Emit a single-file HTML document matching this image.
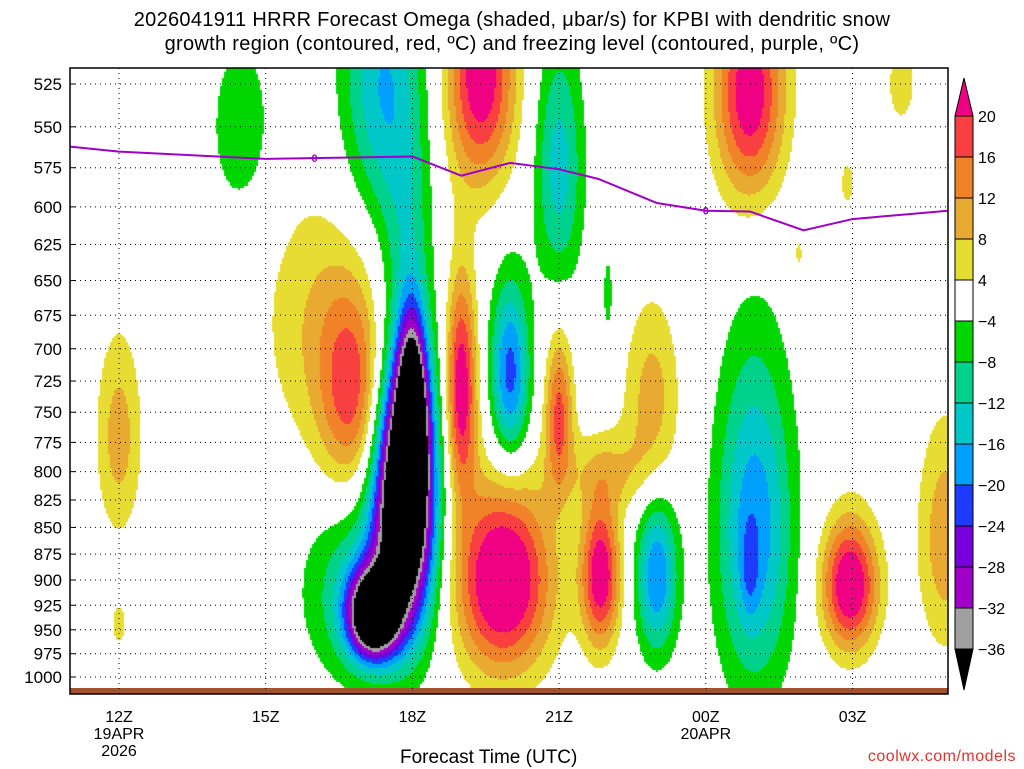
<!DOCTYPE html>
<html><head><meta charset="utf-8"><style>
body{margin:0;background:#fff;width:1024px;height:768px;overflow:hidden;font-family:"Liberation Sans","DejaVu Sans",sans-serif}
#wrap{position:relative;width:1024px;height:768px}
.t{position:absolute;white-space:nowrap}
</style></head><body><div id="wrap">
<div class="t" style="left:0;width:1024px;top:8px;text-align:center;font-size:20px;line-height:24px;letter-spacing:0.3px">2026041911 HRRR Forecast Omega (shaded, μbar/s) for KPBI with dendritic snow<br>growth region (contoured, red, ºC) and freezing level (contoured, purple, ºC)</div>
<canvas id="cv" width="1024" height="768" style="position:absolute;left:0;top:0"></canvas>
<svg id="sv" width="1024" height="768" style="position:absolute;left:0;top:0"></svg>
<div class="t" style="left:400px;top:747px;font-size:19px">Forecast Time (UTC)</div>
<div class="t" style="right:8px;top:748px;font-size:16px;color:#e83030;letter-spacing:0.5px">coolwx.com/models</div>
</div>
<script>
// blobs: hour offset from 12Z, pressure center, sigma hour, sigma pressure, amplitude
const blobH=[0,0,4.8,4.0,7.4,7.0,7.85,9.0,9.85,10.9,12.9,14.95,14.9,16.9,16.0,13.9,10.0,
 2.5,5.85,5.2,5.1,5.4,5.9,9.0,8.0,10.0,11.0,13.0,12.9,6.0];
const blobP=[770,945,735,680,520,730,900,750,895,740,530,905,585,860,525,632,800,
 550,815,935,910,525,610,575,720,660,895,850,890,740];
const blobSH=[0.33,0.13,0.5,0.8,0.5,0.22,0.7,0.2,0.28,0.4,0.5,0.4,0.12,0.4,0.25,0.1,0.7,
 0.45,0.42,0.35,0.85,0.6,0.35,0.35,0.28,0.07,0.3,0.55,0.12,0.2];
const blobSP=[60,18,60,70,45,60,65,45,50,55,45,45,12,75,20,12,25,
 38,80,30,65,60,50,55,50,20,55,110,30,50];
const blobA=[10,6,17,7,24,24,28,17,24,10,24,26,6,11,6,5,7,
 -7.5,-58,-45,-14,-16,-6,-14,-22,-7,-20,-19,-6,-30];
const levels=[20,16,12,8,4,-4,-8,-12,-16,-20,-24,-28,-32,-36];
const colors=['#f00082','#f94040','#f08228','#e8aa30','#e6dc32','#ffffff','#00d700','#00d28c','#00c8c8','#00a0ff','#1e3cff','#7800dc','#a000c8','#a0a0a0','#000000'];
const pTicks=[525,550,575,600,625,650,675,700,725,750,775,800,825,850,875,900,925,950,975,1000];
const xTicks=[0,3,6,9,12,15];
const xLab1=['12Z','15Z','18Z','21Z','00Z','03Z'];
const xLab2=['19APR','','','','20APR',''];
const xLab3=['2026','','','','',''];
const frzH=[-1,0,3,6,7,8,9,9.8,11,12,12.9,14,15,17];
const frzP=[562,565,569.5,568,580,572,576,582,597.5,602.5,603,615.5,608,602.5];
const cbLab=['20','16','12','8','4','−4','−8','−12','−16','−20','−24','−28','−32','−36'];

const L=70,R=948,T=68,B=694;
const LN=Math.log(1000/525);
const X=h=>119+h*48.9;
const Y=p=>84+Math.log(p/525)/LN*593;
const H=x=>(x-119)/48.9;
const P=y=>525*Math.exp((y-84)/593*LN);
function field(h,p){let v=0;for(let i=0;i<blobH.length;i++){const dh=(h-blobH[i])/blobSH[i],dp=(p-blobP[i])/blobSP[i];v+=blobA[i]*Math.exp(-0.5*(dh*dh+dp*dp));}return v;}
function col(v){for(let i=0;i<levels.length;i++){if(v>=levels[i])return colors[i];}return colors[colors.length-1];}
const ctx=document.getElementById('cv').getContext('2d');
ctx.fillStyle='#fff';ctx.fillRect(L,T,R-L,B-T);
for(let x=L;x<R;x+=2)for(let y=T;y<B;y+=2){const c=col(field(H(x+1),P(y+1)));if(c!=='#ffffff'){ctx.fillStyle=c;ctx.fillRect(x,y,2,2);}}
const NS='http://www.w3.org/2000/svg',sv=document.getElementById('sv');
function mk(t,a,par){const e=document.createElementNS(NS,t);for(const k in a)e.setAttribute(k,a[k]);(par||sv).appendChild(e);return e;}
let g=mk('rect',{x:L,y:688,width:R-L,height:6,fill:'#a0522d'});


pTicks.forEach(p=>{const y=Y(p);
 let l=mk('line',{x1:L,x2:R,y1:y,y2:y,stroke:'#000','stroke-width':1,'stroke-dasharray':'1,4'});
 
 
 mk('line',{x1:L,x2:L+6,y1:y,y2:y,stroke:'#000'});
 let t=mk('text',{x:62,y:y+6,'text-anchor':'end','font-size':17,'font-family':'Liberation Sans,sans-serif'});t.textContent=p;
 
 });
xTicks.forEach((h,i)=>{const x=X(h);
 let l=mk('line',{x1:x,x2:x,y1:T,y2:B,stroke:'#000','stroke-dasharray':'1,4'});
 
 
 [xLab1[i],xLab2[i],xLab3[i]].forEach((s,j)=>{if(!s)return;let t=mk('text',{x:x,y:722+j*17,'text-anchor':'middle','font-size':16,'font-family':'Liberation Sans,sans-serif'});t.textContent=s;
 
 });});
let d='';frzH.forEach((h,i)=>{d+=(i?'L':'M')+Math.max(L,Math.min(R,X(h)))+','+Y(frzP[i]);});
let fl=mk('path',{d:d,fill:'none',stroke:'#a000c8','stroke-width':2});


[[4,569],[12,602.5]].forEach(q=>{let t=mk('text',{x:X(q[0]),y:Y(q[1])+4,'text-anchor':'middle','font-size':11,fill:'#a000c8','font-weight':'bold','font-family':'Liberation Sans,sans-serif'});t.textContent='0';
 
 });
let fr=mk('rect',{x:L,y:T,width:R-L,height:B-T,fill:'none',stroke:'#000','stroke-width':1.5});


const cx=955,cw=18,c0=116,ch=41;
let tri=mk('polygon',{points:`${cx},${c0} ${cx+cw},${c0} ${cx+cw/2},78`,fill:colors[0],stroke:'#000'});


for(let i=1;i<colors.length-1;i++){let r=mk('rect',{x:cx,y:c0+(i-1)*ch,width:cw,height:ch,fill:colors[i],stroke:'#000'});
 
 }
const cb=c0+13*ch;
let tri2=mk('polygon',{points:`${cx},${cb} ${cx+cw},${cb} ${cx+cw/2},690`,fill:'#000',stroke:'#000'});


cbLab.forEach((s,i)=>{let t=mk('text',{x:978,y:c0+i*ch+6,'font-size':16,'font-family':'Liberation Sans,sans-serif'});t.textContent=s;
 
 });
</script></body></html>
